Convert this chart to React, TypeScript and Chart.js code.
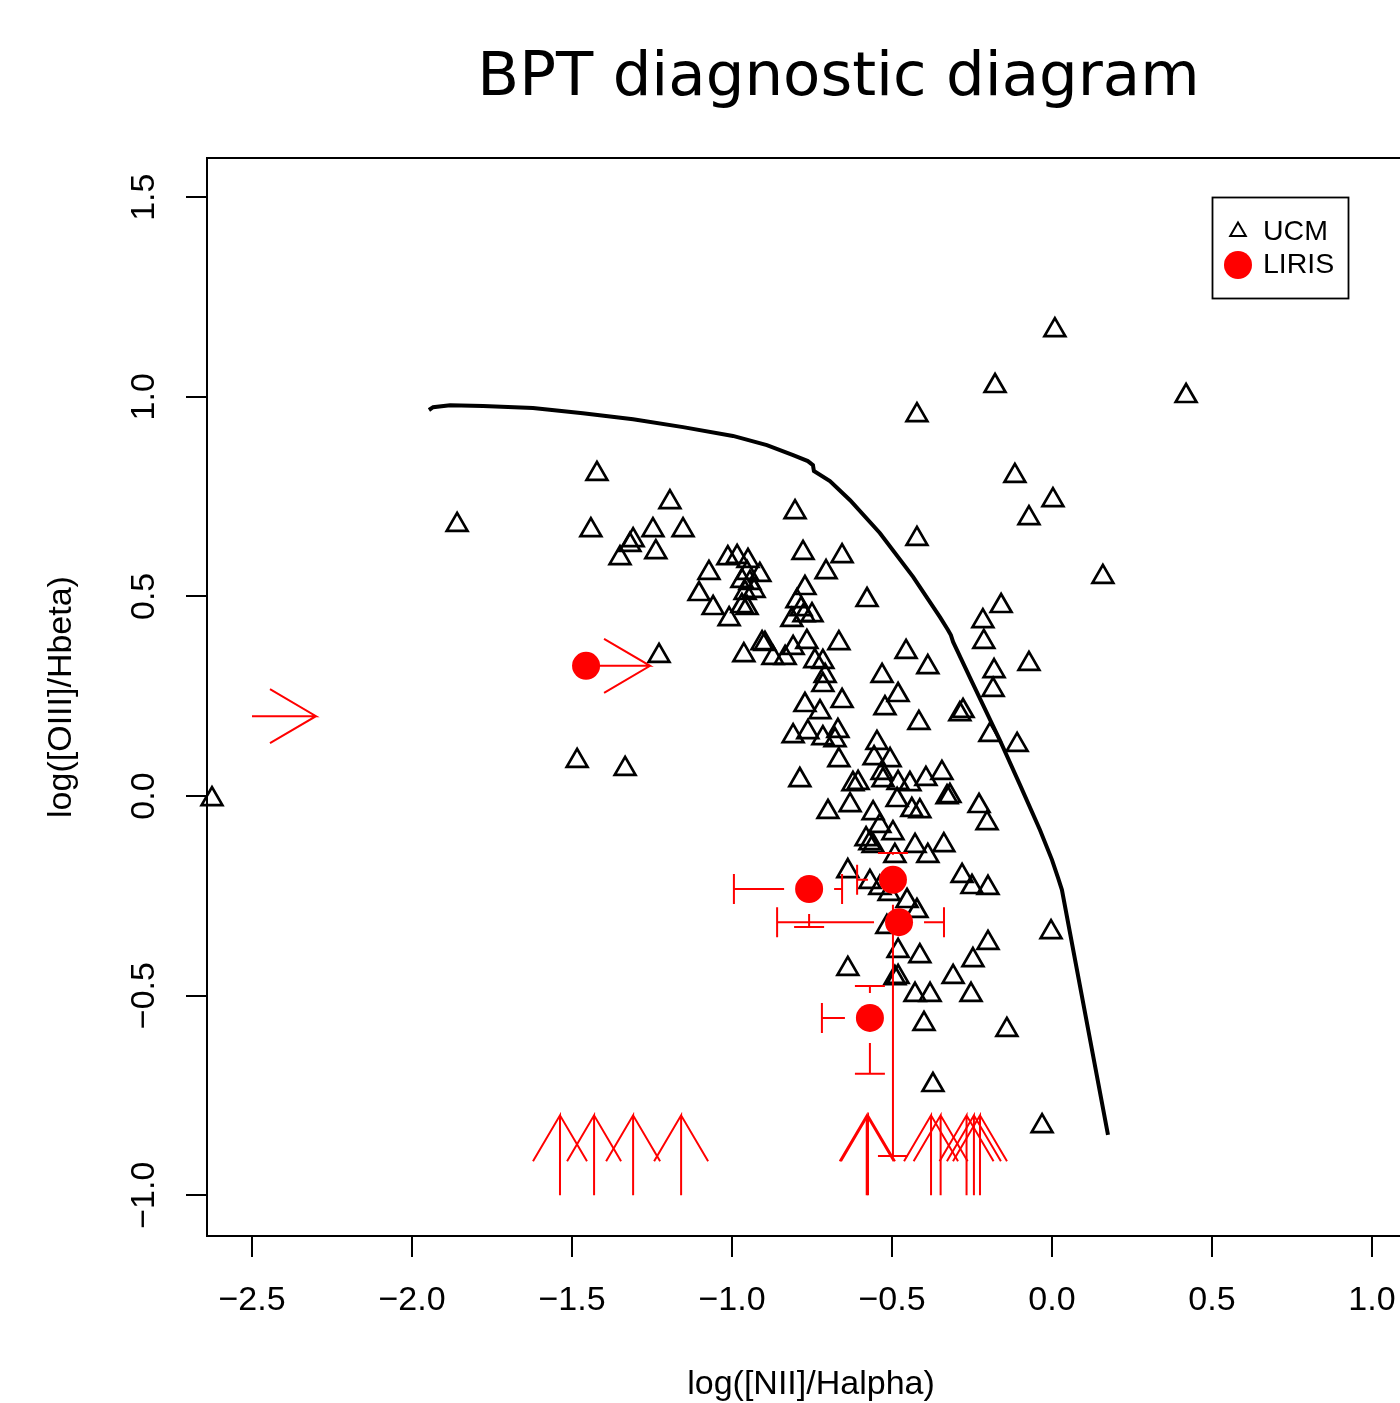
import React, { useEffect, useRef } from 'react';
import { Chart, registerables } from 'chart.js';

Chart.register(...registerables);

// ---------- data ----------
const TITLE = 'BPT diagnostic diagram';
const X_LABEL = 'log([NII]/Halpha)';
const Y_LABEL = 'log([OIII]/Hbeta)';
const LEGEND_LABELS = ['UCM', 'LIRIS'];

const X_TICKS = [-2.5, -2.0, -1.5, -1.0, -0.5, 0.0, 0.5, 1.0];
const Y_TICKS = [-1.0, -0.5, 0.0, 0.5, 1.0, 1.5];

const UCM_X = [
  -2.625, -1.859, -1.422, -1.194, -1.441, -1.247, -1.153, -1.309, -1.319, -1.35,
  -1.238, -1.072, -1.103, -1.059, -1.228, -1.484, -1.334, -1.013, -0.984, -0.95,
  -0.913, -0.953, -0.969, -0.944, -0.931, -0.959, -0.969, -0.953, -1.009, -0.803,
  -0.778, -0.656, -0.706, -0.578, -0.772, -0.797, -0.784, -0.775, -0.75, -0.813,
  -0.963, -0.906, -0.897, -0.872, -0.834, -0.809, -0.766, -0.666, -0.741, -0.716,
  -0.709, -0.716, -0.772, -0.656, -0.725, -0.809, -0.763, -0.716, -0.678, -0.669,
  -0.666, -0.788, -0.622, -0.606, -0.547, -0.556, -0.506, -0.531, -0.528, -0.481,
  -0.444, -0.394, -0.344, -0.456, -0.388, -0.531, -0.481, -0.522, -0.416, -0.288,
  -0.278, -0.213, -0.181, -0.184, -0.194, -0.109, -0.159, -0.216, -0.072, -0.422,
  -0.422, 0.009, -0.178, 0.419, -0.116, 0.003, -0.072, 0.159, -0.484, -0.438,
  -0.413, -0.328, -0.319, -0.228, -0.203, -0.7, -0.631, -0.559, -0.538, -0.497,
  -0.581, -0.569, -0.559, -0.491, -0.428, -0.388, -0.338, -0.638, -0.569, -0.538,
  -0.509, -0.453, -0.422, -0.281, -0.25, -0.2, -0.516, -0.481, -0.413, -0.638,
  -0.247, -0.2, -0.491, -0.481, -0.309, -0.428, -0.381, -0.253, -0.4, -0.141,
  -0.372, -0.031, -0.003,
];
const UCM_Y = [
  -0.008, 0.679, 0.807, 0.736, 0.666, 0.666, 0.666, 0.641, 0.629, 0.596,
  0.611, 0.559, 0.506, 0.471, 0.351, 0.088, 0.068, 0.596, 0.599, 0.589,
  0.554, 0.559, 0.539, 0.534, 0.514, 0.509, 0.476, 0.471, 0.443, 0.711,
  0.609, 0.601, 0.561, 0.491, 0.521, 0.488, 0.468, 0.453, 0.453, 0.441,
  0.353, 0.383, 0.381, 0.346, 0.346, 0.371, 0.386, 0.383, 0.338, 0.336,
  0.301, 0.278, 0.228, 0.238, 0.21, 0.15, 0.16, 0.145, 0.14, 0.163,
  0.09, 0.04, 0.03, 0.033, 0.133, 0.095, 0.09, 0.058, 0.04, 0.033,
  0.03, 0.043, 0.058, 0.361, 0.323, 0.301, 0.253, 0.22, 0.183, 0.205,
  0.213, 0.386, 0.313, 0.266, 0.153, 0.128, 0.476, 0.438, 0.331, 0.644,
  0.954, 1.167, 1.027, 1.002, 0.802, 0.741, 0.696, 0.549, -0.01, -0.035,
  -0.038, -0.003, 0.0, -0.025, -0.068, -0.04, -0.023, -0.043, -0.075, -0.093,
  -0.108, -0.118, -0.125, -0.15, -0.125, -0.15, -0.123, -0.188, -0.215, -0.23,
  -0.245, -0.263, -0.288, -0.2, -0.228, -0.23, -0.328, -0.388, -0.401, -0.433,
  -0.411, -0.368, -0.456, -0.453, -0.453, -0.498, -0.498, -0.498, -0.571, -0.586,
  -0.724, -0.827, -0.341,
];

const LIRIS_X = [-1.456, -0.759, -0.497, -0.478, -0.569];
const LIRIS_Y = [0.326, -0.233, -0.21, -0.316, -0.556];
// error bar end values (null = none)
const LIRIS_XLO = [null, -0.994, -0.609, -0.859, -0.719];
const LIRIS_XHI = [null, -0.656, null, -0.3375, null];
const LIRIS_YLO = [null, -0.328, -0.902, null, -0.696];
const LIRIS_YHI = [null, null, -0.143, null, -0.476];

// limits drawn as arrows
const LIMIT_RIGHT_X = [-2.5, -1.456];
const LIMIT_RIGHT_Y = [0.2, 0.326];
const LIMIT_UP_X = [-1.5375, -1.431, -1.309, -1.159, -0.579, -0.575, -0.378, -0.348, -0.267, -0.244, -0.225];
const LIMIT_UP_Y = [-1.0, -1.0, -1.0, -1.0, -1.0, -1.0, -1.0, -1.0, -1.0, -1.0, -1.0];
const ARROW_LEN = 0.2;

// demarcation curve
const CURVE_X = [
  -1.947, -1.934, -1.881, -1.778, -1.622, -1.466, -1.309, -1.153, -0.997, -0.891,
  -0.809, -0.763, -0.747, -0.744, -0.694, -0.631, -0.538, -0.434, -0.35, -0.325,
  -0.316, -0.309, -0.25, -0.163, -0.1, -0.0375, 0.0, 0.019, 0.031, 0.175,
];
const CURVE_Y = [
  0.967, 0.974, 0.979, 0.977, 0.972, 0.959, 0.944, 0.924, 0.902, 0.879,
  0.854, 0.839, 0.829, 0.814, 0.789, 0.741, 0.659, 0.549, 0.448, 0.416,
  0.403, 0.386, 0.286, 0.14, 0.028, -0.085, -0.16, -0.205, -0.235, -0.849,
];

// ---------- layout / style constants ----------
const X_MIN = -2.6406;
const X_MAX = 1.1344;
const Y_MIN = -1.1022;
const Y_MAX = 1.5982;
const PX_PER_X = 320;
const PX_PER_Y = 399.2;
const RED = '#ff0000';
const CAP_PX = 15;
const GAP_PX = 25;
const WING_BACK_PX = 46;
const WING_SIDE_PX = 27;

const fmt = (v: number) => (v < 0 ? '\u2212' : '') + Math.abs(v).toFixed(1);

type P = { x: number; y: number };

function buildRedPolylines(): P[][] {
  const lines: P[][] = [];
  const capX = CAP_PX / PX_PER_X;
  const capY = CAP_PX / PX_PER_Y;
  const gapX = GAP_PX / PX_PER_X;
  const gapY = GAP_PX / PX_PER_Y;
  for (let i = 0; i < LIRIS_X.length; i++) {
    const x = LIRIS_X[i];
    const y = LIRIS_Y[i];
    const xlo = LIRIS_XLO[i];
    const xhi = LIRIS_XHI[i];
    const ylo = LIRIS_YLO[i];
    const yhi = LIRIS_YHI[i];
    if (xlo !== null) lines.push([{ x: xlo, y: y + capY }, { x: xlo, y: y - capY }, { x: xlo, y }, { x: x - gapX, y }]);
    if (xhi !== null) lines.push([{ x: xhi, y: y + capY }, { x: xhi, y: y - capY }, { x: xhi, y }, { x: x + gapX, y }]);
    if (ylo !== null) lines.push([{ x: x - capX, y: ylo }, { x: x + capX, y: ylo }, { x, y: ylo }, { x, y: y - gapY }]);
    if (yhi !== null) lines.push([{ x: x - capX, y: yhi }, { x: x + capX, y: yhi }, { x, y: yhi }, { x, y: y + gapY }]);
  }
  const backX = WING_BACK_PX / PX_PER_X;
  const sideY = WING_SIDE_PX / PX_PER_Y;
  for (let i = 0; i < LIMIT_RIGHT_X.length; i++) {
    const x0 = LIMIT_RIGHT_X[i];
    const y = LIMIT_RIGHT_Y[i];
    const tip = x0 + ARROW_LEN;
    lines.push([
      { x: x0, y }, { x: tip, y }, { x: tip - backX, y: y + sideY }, { x: tip, y }, { x: tip - backX, y: y - sideY },
    ]);
  }
  const backY = WING_BACK_PX / PX_PER_Y;
  const sideX = WING_SIDE_PX / PX_PER_X;
  for (let i = 0; i < LIMIT_UP_X.length; i++) {
    const x = LIMIT_UP_X[i];
    const y0 = LIMIT_UP_Y[i];
    const tip = y0 + ARROW_LEN;
    lines.push([
      { x, y: y0 }, { x, y: tip }, { x: x - sideX, y: tip - backY }, { x, y: tip }, { x: x + sideX, y: tip - backY },
    ]);
  }
  return lines;
}

const decorPlugin = {
  id: 'decor',
  afterDraw(chart: any) {
    const { ctx, chartArea: a } = chart;
    ctx.save();
    ctx.strokeStyle = '#000';
    ctx.lineWidth = 2;
    ctx.strokeRect(a.left, a.top, a.right - a.left, a.bottom - a.top);

    ctx.fillStyle = '#000';
    ctx.font = '61px "DejaVu Sans"';
    ctx.textAlign = 'center';
    ctx.textBaseline = 'alphabetic';
    ctx.fillText(TITLE, 838.5, 95);

    // legend box
    ctx.lineWidth = 1.8;
    ctx.strokeRect(1212.5, 197.5, 136, 101);
    // triangle symbol
    const tx = 1238, ty = 231.5, r = 9;
    ctx.lineWidth = 2;
    ctx.beginPath();
    ctx.moveTo(tx, ty - r);
    ctx.lineTo(tx + r * 0.866, ty + r * 0.5);
    ctx.lineTo(tx - r * 0.866, ty + r * 0.5);
    ctx.closePath();
    ctx.stroke();
    // dot symbol
    ctx.fillStyle = RED;
    ctx.beginPath();
    ctx.arc(1238, 265, 14, 0, Math.PI * 2);
    ctx.fill();
    ctx.fillStyle = '#000';
    ctx.font = '28.5px "Liberation Sans"';
    ctx.textAlign = 'left';
    ctx.textBaseline = 'middle';
    ctx.fillText(LEGEND_LABELS[0], 1263, 232);
    ctx.fillText(LEGEND_LABELS[1], 1263, 265.5);
    ctx.restore();
  },
};

export default function App() {
  const ref = useRef<HTMLCanvasElement | null>(null);

  useEffect(() => {
    document.body.style.margin = '0';
    document.documentElement.style.overflow = 'hidden';
    document.body.style.overflow = 'hidden';
    const canvas = ref.current;
    if (!canvas) return;

    const redLines = buildRedPolylines();
    const font = { family: 'Liberation Sans', size: 34 };

    const datasets: any[] = [
      {
        label: 'LIRIS',
        data: LIRIS_X.map((x, i) => ({ x, y: LIRIS_Y[i] })),
        pointStyle: 'circle',
        pointRadius: 14,
        pointBackgroundColor: RED,
        pointBorderColor: RED,
        pointBorderWidth: 0,
        showLine: false,
        clip: false,
      },
      ...redLines.map((pts, i) => ({
        label: 'lim' + i,
        data: pts,
        showLine: true,
        borderColor: RED,
        borderWidth: 2,
        pointRadius: 0,
        tension: 0,
        fill: false,
        clip: false,
      })),
      {
        label: 'UCM',
        data: UCM_X.map((x, i) => ({ x, y: UCM_Y[i] })),
        pointStyle: 'triangle',
        pointRadius: 12,
        pointBackgroundColor: 'rgba(0,0,0,0)',
        pointBorderColor: '#000',
        pointBorderWidth: 2.7,
        showLine: false,
        clip: false,
      },
      {
        label: 'curve',
        data: CURVE_X.map((x, i) => ({ x, y: CURVE_Y[i] })),
        showLine: true,
        borderColor: '#000',
        borderWidth: 4,
        pointRadius: 0,
        tension: 0,
        fill: false,
      },
    ];

    const chart = new Chart(canvas, {
      type: 'scatter',
      data: { datasets },
      plugins: [decorPlugin],
      options: {
        animation: false,
        responsive: false,
        devicePixelRatio: 1,
        events: [],
        layout: { padding: { left: 0, top: 158, right: 15, bottom: 0 } },
        plugins: { legend: { display: false }, tooltip: { enabled: false }, title: { display: false } },
        scales: {
          x: {
            type: 'linear',
            position: 'bottom',
            min: X_MIN,
            max: X_MAX,
            afterBuildTicks: (s: any) => {
              s.ticks = X_TICKS.map((value) => ({ value }));
            },
            afterFit: (s: any) => {
              s.height = 167;
            },
            ticks: {
              callback: (v: any) => fmt(Number(v)),
              font,
              color: '#000',
              padding: 23,
              autoSkip: false,
              maxRotation: 0,
              minRotation: 0,
            },
            grid: {
              display: true,
              drawOnChartArea: false,
              drawTicks: true,
              tickLength: 21,
              tickColor: '#000',
              tickWidth: 2,
              color: '#000',
              lineWidth: 2,
            },
            border: { display: true, color: '#000', width: 2 },
            title: { display: true, text: X_LABEL, font, color: '#000', padding: { top: 0, bottom: -2 } },
          },
          y: {
            type: 'linear',
            position: 'left',
            min: Y_MIN,
            max: Y_MAX,
            afterBuildTicks: (s: any) => {
              s.ticks = Y_TICKS.map((value) => ({ value }));
            },
            afterFit: (s: any) => {
              s.width = 207;
            },
            ticks: {
              callback: (v: any) => fmt(Number(v)),
              font,
              color: '#000',
              padding: 8,
              autoSkip: false,
              minRotation: 90,
              maxRotation: 90,
              crossAlign: 'center',
            },
            grid: {
              display: true,
              drawOnChartArea: false,
              drawTicks: true,
              tickLength: 21,
              tickColor: '#000',
              tickWidth: 2,
              color: '#000',
              lineWidth: 2,
            },
            border: { display: true, color: '#000', width: 2 },
            title: { display: true, text: Y_LABEL, font, color: '#000', padding: { top: 41, bottom: 0 } },
          },
        },
      } as any,
    });

    return () => chart.destroy();
  }, []);

  return (
    <div style={{ width: 1400, height: 1403, overflow: 'hidden', position: 'relative', background: '#fff' }}>
      <canvas ref={ref} width={1430} height={1403} style={{ display: 'block' }} />
    </div>
  );
}
